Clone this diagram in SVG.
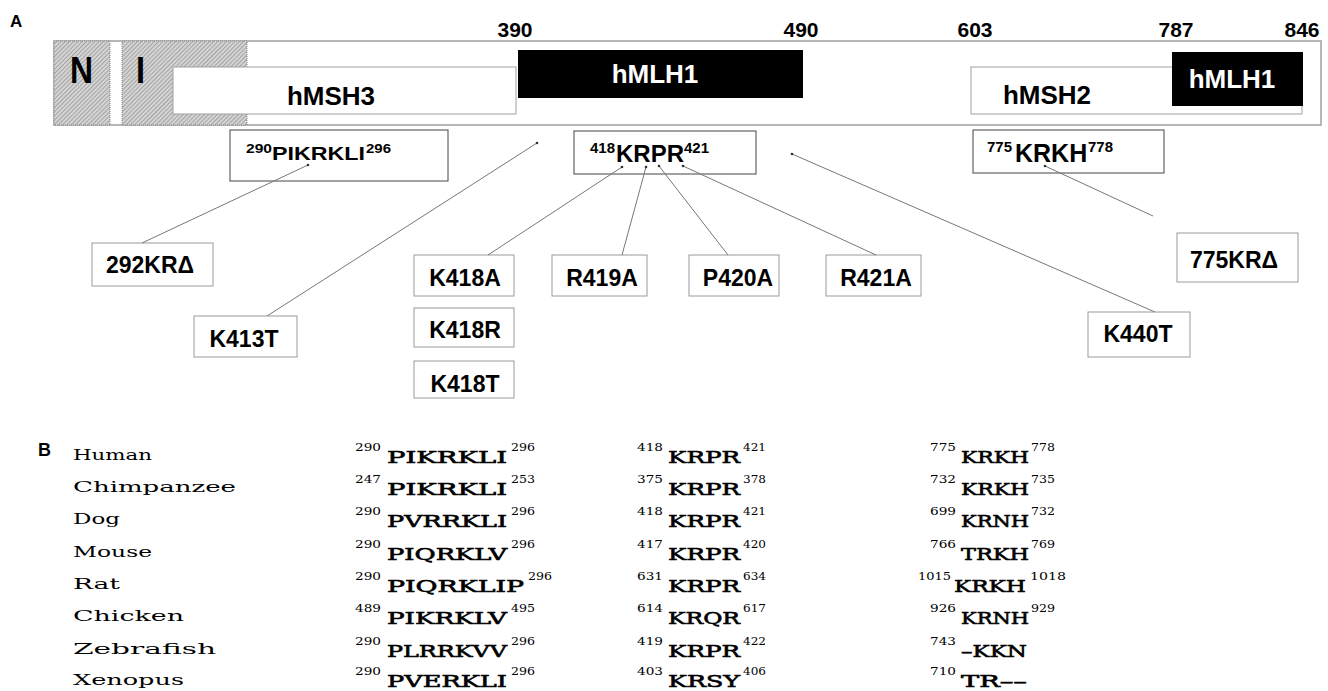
<svg xmlns="http://www.w3.org/2000/svg" width="1328" height="691" viewBox="0 0 1328 691">
<defs>
<pattern id="hatch" width="3" height="3" patternUnits="userSpaceOnUse" patternTransform="rotate(45)">
<rect width="3" height="3" fill="#d4d4d4"/>
<line x1="0.5" y1="0" x2="0.5" y2="3" stroke="#a4a4a4" stroke-width="1"/>
</pattern>
<marker id="dot" markerWidth="4" markerHeight="4" refX="2" refY="2" markerUnits="userSpaceOnUse">
<circle cx="2" cy="2" r="1.3" fill="#333"/>
</marker>
<style>
.lbl{font-family:"Liberation Sans",Arial,sans-serif;font-weight:bold;fill:#000}
.num{font-family:"Liberation Sans",Arial,sans-serif;font-weight:bold;font-size:21px;text-anchor:middle}
.dom{font-family:"Liberation Sans",Arial,sans-serif;font-weight:bold;font-size:26px;text-anchor:middle}
.mut{font-family:"Liberation Sans",Arial,sans-serif;font-weight:bold;font-size:23px;text-anchor:middle}
.wbox{fill:#fff;stroke:#a0a0a0;stroke-width:1}
.mbox{fill:#fff;stroke:#9a9a9a;stroke-width:1}
.sbox{fill:#fff;stroke:#444;stroke-width:1}
.hat{fill:url(#hatch);stroke:#888;stroke-width:1;stroke-dasharray:1 1}
.conn line{stroke:#777;stroke-width:1;marker-end:url(#dot)}
.sp{font-family:"DejaVu Serif","Liberation Serif",serif;font-size:15px;fill:#000}
.sq{font-family:"DejaVu Serif","Liberation Serif",serif;font-size:17px;fill:#000;stroke:#000;stroke-width:0.6}
.su{font-family:"DejaVu Serif","Liberation Serif",serif;font-size:11.5px;fill:#000}
</style>
</defs>
<rect width="1328" height="691" fill="#fff"/>

<text class="lbl" x="10" y="27" font-size="17">A</text>
<text class="lbl" x="38" y="456" font-size="18">B</text>

<g id="protein">
<rect x="54" y="41" width="1267" height="84" fill="#fff" stroke="#a0a0a0" stroke-width="1.5"/>
</g>
<g id="domain-N">
<rect class="hat" x="54" y="41" width="56" height="84"/>
<text class="lbl" x="70" y="83" font-size="37" textLength="23" lengthAdjust="spacingAndGlyphs">N</text>
</g>
<g id="domain-I">
<rect class="hat" x="122" y="41" width="125" height="84"/>
<text class="lbl" x="136" y="83" font-size="37" textLength="9" lengthAdjust="spacingAndGlyphs">I</text>
</g>
<g id="hMSH3">
<rect class="wbox" x="173" y="67" width="343" height="47"/>
<text class="dom" x="331" y="105">hMSH3</text>
</g>
<g id="hMLH1-a">
<rect x="518" y="50" width="285" height="48" fill="#000"/>
<text class="dom" x="655" y="83" style="fill:#fff">hMLH1</text>
</g>
<g id="hMSH2">
<rect class="wbox" x="971" y="67" width="331" height="47"/>
<text class="dom" x="1047" y="104">hMSH2</text>
</g>
<g id="hMLH1-b">
<rect x="1172" y="52" width="131" height="54" fill="#000"/>
<text class="dom" x="1232" y="88" style="fill:#fff">hMLH1</text>
</g>
<g id="numbers">
<text class="num" x="515" y="37">390</text>
<text class="num" x="801" y="37">490</text>
<text class="num" x="975" y="37">603</text>
<text class="num" x="1176" y="37">787</text>
<text class="num" x="1302" y="37">846</text>
</g>

<g id="site-290">
<rect class="sbox" x="230" y="130" width="218" height="51"/>
<text class="lbl" x="246" y="153" font-size="13" textLength="26" lengthAdjust="spacingAndGlyphs">290</text>
<text class="lbl" x="272" y="160" font-size="19" textLength="93" lengthAdjust="spacingAndGlyphs">PIKRKLI</text>
<text class="lbl" x="366" y="153" font-size="13" textLength="25" lengthAdjust="spacingAndGlyphs">296</text>
</g>
<g id="site-418">
<rect class="sbox" x="574" y="131" width="182" height="43"/>
<text class="lbl" x="590" y="153" font-size="15">418</text>
<text class="lbl" x="616" y="162" font-size="24">KRPR</text>
<text class="lbl" x="684" y="153" font-size="15">421</text>
</g>
<g id="site-775">
<rect class="sbox" x="973" y="130" width="191" height="43"/>
<text class="lbl" x="987" y="152" font-size="15">775</text>
<text class="lbl" x="1015" y="162" font-size="25">KRKH</text>
<text class="lbl" x="1088" y="152" font-size="15">778</text>
</g>

<g id="m-292KR"><rect class="mbox" x="92" y="243" width="121" height="43"/><text class="mut" x="150" y="273">292KRΔ</text></g>
<g id="m-K413T"><rect class="mbox" x="194" y="316" width="103" height="41"/><text class="mut" x="244" y="347">K413T</text></g>
<g id="m-K418A"><rect class="mbox" x="414" y="255" width="100" height="41"/><text class="mut" x="465" y="286">K418A</text></g>
<g id="m-K418R"><rect class="mbox" x="414" y="308" width="100" height="39"/><text class="mut" x="465" y="338">K418R</text></g>
<g id="m-K418T"><rect class="mbox" x="414" y="361" width="100" height="37"/><text class="mut" x="465" y="392">K418T</text></g>
<g id="m-R419A"><rect class="mbox" x="552" y="255" width="95" height="41"/><text class="mut" x="602" y="286">R419A</text></g>
<g id="m-P420A"><rect class="mbox" x="689" y="255" width="90" height="41"/><text class="mut" x="738" y="286">P420A</text></g>
<g id="m-R421A"><rect class="mbox" x="826" y="255" width="95" height="41"/><text class="mut" x="876" y="286">R421A</text></g>
<g id="m-775KR"><rect class="mbox" x="1177" y="233" width="121" height="49"/><text class="mut" x="1234" y="268">775KRΔ</text></g>
<g id="m-K440T"><rect class="mbox" x="1088" y="312" width="102" height="45"/><text class="mut" x="1138" y="342">K440T</text></g>

<g id="connectors" class="conn">
<line x1="142" y1="243" x2="308" y2="165"/>
<line x1="267" y1="316" x2="537" y2="143"/>
<line x1="488" y1="255" x2="622" y2="167"/>
<line x1="622" y1="255" x2="646" y2="167"/>
<line x1="728" y1="255" x2="659" y2="166"/>
<line x1="876" y1="255" x2="683" y2="166"/>
<line x1="1155" y1="312" x2="792" y2="154"/>
<line x1="1153" y1="216" x2="1045" y2="166"/>
</g>

<g id="species">
<text class="sp" x="73" y="460" textLength="79" lengthAdjust="spacingAndGlyphs">Human</text>
<text class="sp" x="73" y="492" textLength="163" lengthAdjust="spacingAndGlyphs">Chimpanzee</text>
<text class="sp" x="73" y="524" textLength="47" lengthAdjust="spacingAndGlyphs">Dog</text>
<text class="sp" x="73" y="557" textLength="79" lengthAdjust="spacingAndGlyphs">Mouse</text>
<text class="sp" x="73" y="589" textLength="47" lengthAdjust="spacingAndGlyphs">Rat</text>
<text class="sp" x="73" y="621" textLength="111" lengthAdjust="spacingAndGlyphs">Chicken</text>
<text class="sp" x="73" y="654" textLength="143" lengthAdjust="spacingAndGlyphs">Zebrafish</text>
<text class="sp" x="73" y="685" textLength="111" lengthAdjust="spacingAndGlyphs">Xenopus</text>
</g>

<g id="motif-1">
<text class="su" x="355" y="451" textLength="26" lengthAdjust="spacingAndGlyphs">290</text><text class="sq" x="387" y="463" textLength="120" lengthAdjust="spacingAndGlyphs">PIKRKLI</text><text class="su" x="511" y="451" textLength="24" lengthAdjust="spacingAndGlyphs">296</text>
<text class="su" x="355" y="483" textLength="26" lengthAdjust="spacingAndGlyphs">247</text><text class="sq" x="387" y="495" textLength="120" lengthAdjust="spacingAndGlyphs">PIKRKLI</text><text class="su" x="511" y="483" textLength="24" lengthAdjust="spacingAndGlyphs">253</text>
<text class="su" x="355" y="515" textLength="26" lengthAdjust="spacingAndGlyphs">290</text><text class="sq" x="387" y="527" textLength="120" lengthAdjust="spacingAndGlyphs">PVRRKLI</text><text class="su" x="511" y="515" textLength="24" lengthAdjust="spacingAndGlyphs">296</text>
<text class="su" x="355" y="548" textLength="26" lengthAdjust="spacingAndGlyphs">290</text><text class="sq" x="387" y="560" textLength="120" lengthAdjust="spacingAndGlyphs">PIQRKLV</text><text class="su" x="511" y="548" textLength="24" lengthAdjust="spacingAndGlyphs">296</text>
<text class="su" x="355" y="580" textLength="26" lengthAdjust="spacingAndGlyphs">290</text><text class="sq" x="387" y="592" textLength="137" lengthAdjust="spacingAndGlyphs">PIQRKLIP</text><text class="su" x="528" y="580" textLength="24" lengthAdjust="spacingAndGlyphs">296</text>
<text class="su" x="355" y="612" textLength="26" lengthAdjust="spacingAndGlyphs">489</text><text class="sq" x="387" y="624" textLength="120" lengthAdjust="spacingAndGlyphs">PIKRKLV</text><text class="su" x="511" y="612" textLength="24" lengthAdjust="spacingAndGlyphs">495</text>
<text class="su" x="355" y="645" textLength="26" lengthAdjust="spacingAndGlyphs">290</text><text class="sq" x="387" y="657" textLength="120" lengthAdjust="spacingAndGlyphs">PLRRKVV</text><text class="su" x="511" y="645" textLength="24" lengthAdjust="spacingAndGlyphs">296</text>
<text class="su" x="355" y="675" textLength="26" lengthAdjust="spacingAndGlyphs">290</text><text class="sq" x="387" y="687" textLength="120" lengthAdjust="spacingAndGlyphs">PVERKLI</text><text class="su" x="511" y="675" textLength="24" lengthAdjust="spacingAndGlyphs">296</text>
</g>

<g id="motif-2">
<text class="su" x="637" y="451" textLength="26" lengthAdjust="spacingAndGlyphs">418</text><text class="sq" x="668" y="463" textLength="72" lengthAdjust="spacingAndGlyphs">KRPR</text><text class="su" x="743" y="451" textLength="23" lengthAdjust="spacingAndGlyphs">421</text>
<text class="su" x="637" y="483" textLength="26" lengthAdjust="spacingAndGlyphs">375</text><text class="sq" x="668" y="495" textLength="72" lengthAdjust="spacingAndGlyphs">KRPR</text><text class="su" x="743" y="483" textLength="23" lengthAdjust="spacingAndGlyphs">378</text>
<text class="su" x="637" y="515" textLength="26" lengthAdjust="spacingAndGlyphs">418</text><text class="sq" x="668" y="527" textLength="72" lengthAdjust="spacingAndGlyphs">KRPR</text><text class="su" x="743" y="515" textLength="23" lengthAdjust="spacingAndGlyphs">421</text>
<text class="su" x="637" y="548" textLength="26" lengthAdjust="spacingAndGlyphs">417</text><text class="sq" x="668" y="560" textLength="72" lengthAdjust="spacingAndGlyphs">KRPR</text><text class="su" x="743" y="548" textLength="23" lengthAdjust="spacingAndGlyphs">420</text>
<text class="su" x="637" y="580" textLength="26" lengthAdjust="spacingAndGlyphs">631</text><text class="sq" x="668" y="592" textLength="72" lengthAdjust="spacingAndGlyphs">KRPR</text><text class="su" x="743" y="580" textLength="23" lengthAdjust="spacingAndGlyphs">634</text>
<text class="su" x="637" y="612" textLength="26" lengthAdjust="spacingAndGlyphs">614</text><text class="sq" x="668" y="624" textLength="72" lengthAdjust="spacingAndGlyphs">KRQR</text><text class="su" x="743" y="612" textLength="23" lengthAdjust="spacingAndGlyphs">617</text>
<text class="su" x="637" y="645" textLength="26" lengthAdjust="spacingAndGlyphs">419</text><text class="sq" x="668" y="657" textLength="72" lengthAdjust="spacingAndGlyphs">KRPR</text><text class="su" x="743" y="645" textLength="23" lengthAdjust="spacingAndGlyphs">422</text>
<text class="su" x="637" y="675" textLength="26" lengthAdjust="spacingAndGlyphs">403</text><text class="sq" x="668" y="687" textLength="72" lengthAdjust="spacingAndGlyphs">KRSY</text><text class="su" x="743" y="675" textLength="23" lengthAdjust="spacingAndGlyphs">406</text>
</g>

<g id="motif-3">
<text class="su" x="930" y="451" textLength="26" lengthAdjust="spacingAndGlyphs">775</text><text class="sq" x="961" y="463" textLength="68" lengthAdjust="spacingAndGlyphs">KRKH</text><text class="su" x="1031" y="451" textLength="24" lengthAdjust="spacingAndGlyphs">778</text>
<text class="su" x="930" y="483" textLength="26" lengthAdjust="spacingAndGlyphs">732</text><text class="sq" x="961" y="495" textLength="68" lengthAdjust="spacingAndGlyphs">KRKH</text><text class="su" x="1031" y="483" textLength="24" lengthAdjust="spacingAndGlyphs">735</text>
<text class="su" x="930" y="515" textLength="26" lengthAdjust="spacingAndGlyphs">699</text><text class="sq" x="961" y="527" textLength="68" lengthAdjust="spacingAndGlyphs">KRNH</text><text class="su" x="1031" y="515" textLength="24" lengthAdjust="spacingAndGlyphs">732</text>
<text class="su" x="930" y="548" textLength="26" lengthAdjust="spacingAndGlyphs">766</text><text class="sq" x="961" y="560" textLength="68" lengthAdjust="spacingAndGlyphs">TRKH</text><text class="su" x="1031" y="548" textLength="24" lengthAdjust="spacingAndGlyphs">769</text>
<text class="su" x="918" y="580" textLength="33" lengthAdjust="spacingAndGlyphs">1015</text><text class="sq" x="954" y="592" textLength="72" lengthAdjust="spacingAndGlyphs">KRKH</text><text class="su" x="1030" y="580" textLength="36" lengthAdjust="spacingAndGlyphs">1018</text>
<text class="su" x="930" y="612" textLength="26" lengthAdjust="spacingAndGlyphs">926</text><text class="sq" x="961" y="624" textLength="68" lengthAdjust="spacingAndGlyphs">KRNH</text><text class="su" x="1031" y="612" textLength="24" lengthAdjust="spacingAndGlyphs">929</text>
<text class="su" x="930" y="645" textLength="26" lengthAdjust="spacingAndGlyphs">743</text><text class="sq" x="961" y="657" textLength="66" lengthAdjust="spacingAndGlyphs">–KKN</text>
<text class="su" x="930" y="675" textLength="26" lengthAdjust="spacingAndGlyphs">710</text><text class="sq" x="961" y="687" textLength="66" lengthAdjust="spacingAndGlyphs">TR––</text>
</g>
</svg>
